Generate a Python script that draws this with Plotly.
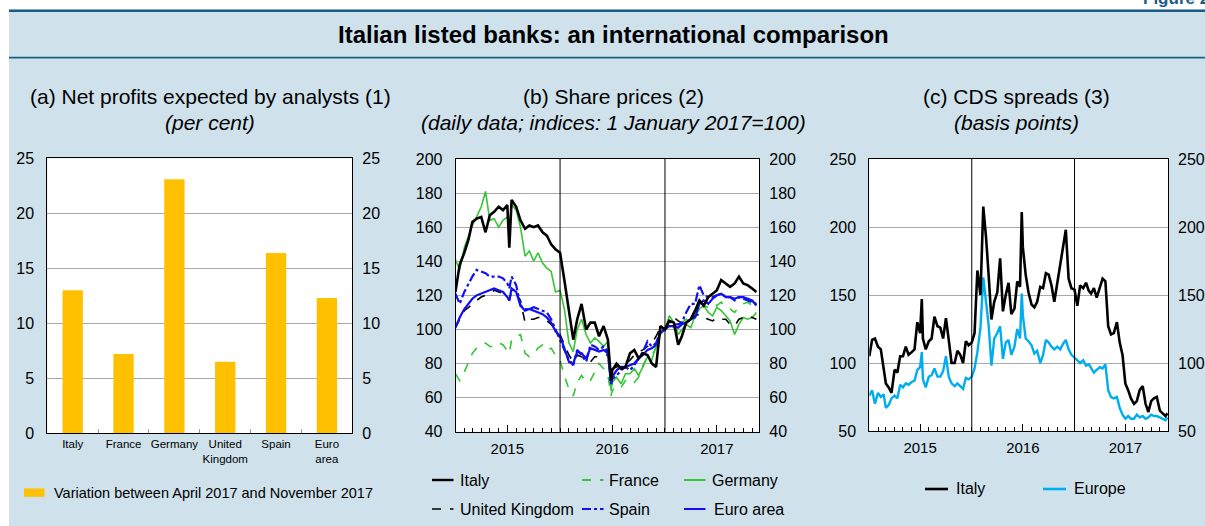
import plotly.graph_objects as go

# ---------------- DATA ----------------
# (a) Net profits expected by analysts: variation April 2017 - November 2017 (per cent)
CATEGORIES = ["Italy", "France", "Germany", "United<br>Kingdom", "Spain", "Euro<br>area"]
NET_PROFIT_VARIATION = [13.0, 7.2, 23.1, 6.5, 16.4, 12.3]

# (b) Share prices, indices 1 January 2017 = 100
B_DATES = [
    "2015-01-01", "2015-01-16", "2015-02-01", "2015-02-16", "2015-03-01", "2015-03-16", "2015-04-01", "2015-04-16",
    "2015-05-01", "2015-05-16", "2015-06-01", "2015-06-16", "2015-07-01", "2015-07-08", "2015-07-16", "2015-08-01",
    "2015-08-16", "2015-09-01", "2015-09-16", "2015-10-01", "2015-10-16", "2015-11-01", "2015-11-16", "2015-12-01",
    "2015-12-16",
    "2016-01-01", "2016-01-16", "2016-02-01", "2016-02-16", "2016-03-01", "2016-03-16", "2016-04-01", "2016-04-16",
    "2016-05-01", "2016-05-16", "2016-06-01", "2016-06-16", "2016-06-27", "2016-07-01", "2016-07-16", "2016-08-01",
    "2016-08-16", "2016-09-01", "2016-09-16", "2016-10-01", "2016-10-16", "2016-11-01", "2016-11-16", "2016-12-01",
    "2016-12-16",
    "2017-01-01", "2017-01-16", "2017-02-01", "2017-02-16", "2017-03-01", "2017-03-16", "2017-04-01", "2017-04-16",
    "2017-05-01", "2017-05-16", "2017-06-01", "2017-06-16", "2017-07-01", "2017-07-16", "2017-08-01", "2017-08-16",
    "2017-09-01", "2017-09-16", "2017-10-01", "2017-10-16", "2017-11-01", "2017-11-16",
]
SHARE_ITALY = [
    122, 138, 145, 153, 163, 165, 166, 157, 167, 169, 172, 170, 173, 148, 176, 172, 164, 159, 161, 160, 161, 157, 155, 150, 147,
    145, 129, 111, 94, 106, 115, 100, 104, 104, 96, 102, 94, 70, 76, 80, 77, 78, 86, 88, 83, 86, 85, 80, 78, 102,
    100, 105, 104, 91, 96, 104, 106, 111, 117, 114, 119, 121, 123, 129, 127, 125, 127, 131, 127, 126, 124, 122,
]
SHARE_FRANCE = [
    74, 70, 75, 81, 86, 89, 91, 92, 90, 90, 92, 91, 88, 86, 94, 96, 97, 86, 84, 86, 89, 91, 88, 89, 85,
    82, 73, 65, 61, 69, 73, 69, 70, 75, 80, 77, 73, 61, 64, 67, 66, 70, 71, 69, 72, 79, 84, 85, 89, 97,
    100, 103, 101, 99, 104, 106, 104, 106, 116, 114, 113, 115, 114, 116, 113, 112, 110, 113, 115, 116, 114, 113,
]
SHARE_GERMANY = [
    141, 135, 148, 155, 161, 166, 172, 181, 164, 165, 160, 164, 166, 159, 173, 170, 160, 143, 146, 140, 145, 139, 136, 134, 122,
    123, 112, 92, 87, 100, 106, 97, 92, 95, 93, 90, 93, 64, 69, 72, 68, 74, 74, 77, 73, 78, 84, 82, 90, 99,
    100, 108, 104, 97, 100, 103, 101, 108, 112, 114, 110, 108, 113, 111, 108, 105, 97, 103, 107, 106, 107, 110,
]
SHARE_UK = [
    101, 106, 111, 113, 115, 117, 119, 120, 121, 123, 122, 121, 119, 117, 122, 121, 117, 104, 106, 106, 107, 107, 105, 103, 100,
    97, 91, 85, 81, 85, 84, 82, 81, 84, 84, 85, 85, 76, 77, 78, 79, 80, 82, 85, 87, 88, 90, 92, 96, 101,
    100, 106, 107, 105, 104, 104, 106, 108, 109, 107, 106, 105, 107, 106, 106, 103, 102, 106, 107, 108, 107, 106,
]
SHARE_SPAIN = [
    121, 115, 122, 127, 131, 135, 134, 133, 131, 131, 131, 130, 127, 124, 131, 126, 114, 112, 112, 113, 112, 111, 110, 106, 100,
    93, 88, 82, 79, 88, 85, 81, 91, 90, 88, 90, 87, 68, 71, 73, 76, 78, 76, 79, 83, 87, 93, 90, 92, 99,
    100, 105, 103, 103, 104, 110, 115, 115, 126, 120, 119, 119, 120, 121, 119, 119, 117, 119, 118, 117, 116, 115,
]
SHARE_EURO_AREA = [
    101, 107, 112, 115, 118, 120, 121, 122, 123, 124, 123, 122, 119, 117, 124, 122, 114, 111, 112, 111, 110, 109, 107, 104, 99,
    96, 89, 81, 80, 87, 86, 83, 89, 88, 87, 88, 86, 68, 72, 76, 78, 78, 79, 80, 83, 85, 88, 89, 91, 98,
    100, 102, 102, 101, 103, 104, 106, 107, 115, 117, 115, 118, 120, 121, 119, 119, 118, 119, 119, 118, 117, 114,
]

# (c) CDS spreads, basis points
C_DATES = [
    "2015-01-01", "2015-01-11", "2015-01-21", "2015-02-01", "2015-02-11", "2015-02-21", "2015-03-01", "2015-03-11",
    "2015-03-21", "2015-04-01", "2015-04-11", "2015-04-21", "2015-05-01", "2015-05-11", "2015-05-21", "2015-06-01",
    "2015-06-11", "2015-06-21", "2015-07-01", "2015-07-07", "2015-07-11", "2015-07-21", "2015-08-01", "2015-08-11",
    "2015-08-21", "2015-09-01", "2015-09-11", "2015-09-21", "2015-10-01", "2015-10-11", "2015-10-21", "2015-11-01",
    "2015-11-11", "2015-11-21", "2015-12-01", "2015-12-11", "2015-12-21",
    "2016-01-01", "2016-01-11", "2016-01-21", "2016-02-01", "2016-02-11", "2016-02-21", "2016-03-01", "2016-03-11",
    "2016-03-21", "2016-04-01", "2016-04-11", "2016-04-21", "2016-05-01", "2016-05-11", "2016-05-21", "2016-06-01",
    "2016-06-11", "2016-06-21", "2016-06-27", "2016-07-01", "2016-07-11", "2016-07-21", "2016-08-01", "2016-08-11",
    "2016-08-21", "2016-09-01", "2016-09-11", "2016-09-21", "2016-10-01", "2016-10-11", "2016-10-21", "2016-11-01",
    "2016-11-11", "2016-11-21", "2016-12-01", "2016-12-11", "2016-12-21",
    "2017-01-01", "2017-01-11", "2017-01-21", "2017-02-01", "2017-02-11", "2017-02-21", "2017-03-01", "2017-03-11",
    "2017-03-21", "2017-04-01", "2017-04-11", "2017-04-21", "2017-05-01", "2017-05-11", "2017-05-21", "2017-06-01",
    "2017-06-11", "2017-06-21", "2017-07-01", "2017-07-11", "2017-07-21", "2017-08-01", "2017-08-11", "2017-08-21",
    "2017-09-01", "2017-09-11", "2017-09-21", "2017-10-01", "2017-10-11", "2017-10-21", "2017-11-01", "2017-11-11",
    "2017-11-21", "2017-11-28",
]
CDS_ITALY = [
    105, 117, 118, 112, 110, 95, 85, 82, 78, 95, 93, 105, 105, 112, 106, 108, 110, 130, 122, 147, 118, 110,
    116, 118, 134, 127, 126, 118, 133, 117, 100, 100, 109, 106, 100, 116, 113,
    115, 122, 168, 150, 215, 192, 165, 132, 145, 152, 177, 138, 150, 159, 136, 140, 160, 156, 211, 185, 165, 152,
    143, 141, 145, 156, 155, 166, 165, 157, 145, 160, 171, 188, 198, 162, 155,
    154, 142, 157, 155, 159, 153, 151, 155, 148, 155, 162, 160, 127, 121, 122, 130, 115, 106, 85, 80, 74,
    70, 72, 80, 83, 70, 64, 72, 74, 75, 65, 63, 61, 63,
]
CDS_EUROPE = [
    76, 80, 70, 78, 75, 77, 67, 69, 74, 76, 74, 84, 82, 85, 84, 86, 87, 95, 97, 108, 88, 82,
    90, 91, 96, 90, 90, 94, 105, 90, 85, 83, 85, 83, 81, 89, 88,
    90, 96, 108, 126, 163, 145, 128, 98, 118, 122, 127, 103, 115, 117, 106, 112, 125, 118, 151, 135, 118, 116,
    113, 107, 109, 100, 106, 117, 115, 112, 110, 112, 110, 114, 117, 110, 106,
    104, 102, 100, 102, 98, 99, 96, 93, 95, 97, 96, 99, 80, 75, 74, 75, 67, 62, 59, 61, 59,
    59, 62, 60, 61, 59, 60, 62, 61, 61, 60, 59, 58, 60,
]

YEAR_STARTS = ["2016-01-01", "2017-01-01"]
YEAR_MIDS = ["2015-07-01", "2016-07-01", "2017-07-01"]
YEAR_LABELS = ["2015", "2016", "2017"]

# ---------------- STYLE ----------------
W, H = 1205, 526
FONT = "Liberation Sans, Arial, Helvetica, sans-serif"
BG = "#CFE2EC"
DARK = "#1C5C84"
BAR_COLOR = "#FFC000"
GREEN = "#35C535"
BLUE = "#1010F0"
LIGHTBLUE = "#00AEEF"
GRID = "#A9A9A9"


def px(x):
    return x / W


def py(y):
    return 1 - y / H


fig = go.Figure()

# ---- panel (a)
fig.add_trace(go.Bar(x=CATEGORIES, y=NET_PROFIT_VARIATION, marker=dict(color=BAR_COLOR, line=dict(width=0)),
                     xaxis="x", yaxis="y", showlegend=False, name="Variation"))
fig.add_trace(go.Scatter(x=CATEGORIES, y=NET_PROFIT_VARIATION, mode="markers", marker=dict(opacity=0),
                         xaxis="x", yaxis="y4", showlegend=False, hoverinfo="skip"))

# ---- panel (b)
share_series = [
    ("France", SHARE_FRANCE, GREEN, "dash", 1.6),
    ("Germany", SHARE_GERMANY, GREEN, "solid", 1.6),
    ("United Kingdom", SHARE_UK, "black", "dash", 1.6),
    ("Spain", SHARE_SPAIN, BLUE, "dashdot", 2.2),
    ("Euro area", SHARE_EURO_AREA, BLUE, "solid", 2.2),
    ("Italy", SHARE_ITALY, "black", "solid", 2.6),
]
for name, vals, col, dash, wd in share_series:
    fig.add_trace(go.Scatter(x=B_DATES, y=vals, mode="lines", name=name, line=dict(color=col, dash=dash, width=wd),
                             xaxis="x2", yaxis="y2", showlegend=False))
fig.add_trace(go.Scatter(x=B_DATES, y=SHARE_ITALY, mode="markers", marker=dict(opacity=0),
                         xaxis="x2", yaxis="y5", showlegend=False, hoverinfo="skip"))

# ---- panel (c)
fig.add_trace(go.Scatter(x=C_DATES, y=CDS_EUROPE, mode="lines", name="Europe", line=dict(color=LIGHTBLUE, width=2.4),
                         xaxis="x3", yaxis="y3", showlegend=False))
fig.add_trace(go.Scatter(x=C_DATES, y=CDS_ITALY, mode="lines", name="Italy", line=dict(color="black", width=2.6),
                         xaxis="x3", yaxis="y3", showlegend=False))
fig.add_trace(go.Scatter(x=C_DATES, y=CDS_ITALY, mode="markers", marker=dict(opacity=0),
                         xaxis="x3", yaxis="y6", showlegend=False, hoverinfo="skip"))

tickfont = dict(family=FONT, size=16, color="black")


def yax(domain, rng, dtick, anchor):
    return dict(domain=domain, range=rng, dtick=dtick, tick0=0, anchor=anchor, showgrid=True, gridcolor=GRID,
                gridwidth=1, showline=True, mirror=True, linecolor="black", linewidth=1, ticks="",
                zeroline=False, tickfont=tickfont, ticklabelstandoff=9, fixedrange=True, automargin=False)


def yax_right(over, rng, dtick, anchor):
    return dict(overlaying=over, side="right", range=rng, dtick=dtick, tick0=0, anchor=anchor, showgrid=False,
                showline=False, zeroline=False, ticks="", tickfont=tickfont, ticklabelstandoff=9, fixedrange=True,
                automargin=False)


def xdate(domain, rng, anchor):
    return dict(domain=domain, range=rng, anchor=anchor, type="date", tickmode="array", tickvals=YEAR_MIDS,
                ticktext=YEAR_LABELS, ticks="inside", ticklen=7, tickcolor="black", tickwidth=1,
                minor=dict(ticks="inside", ticklen=4, tickcolor="black", dtick="M1", tick0="2015-01-01",
                           showgrid=False),
                showgrid=False, showline=True, mirror=True, linecolor="black", linewidth=1, zeroline=False,
                tickfont=dict(family=FONT, size=15, color="black"), ticklabelstandoff=3, fixedrange=True,
                automargin=False)


layout = dict(
    width=W, height=H, autosize=False,
    margin=dict(l=0, r=0, t=0, b=0, pad=0, autoexpand=False),
    paper_bgcolor=BG, plot_bgcolor="white",
    font=dict(family=FONT, color="black"),
    bargap=0.6, barmode="overlay",
    xaxis=dict(domain=[px(47.3), px(352.3)], anchor="y", type="category", range=[-0.5, 5.5],
               ticks="inside", tickson="boundaries", ticklen=4, tickcolor="#9A9A9A", showgrid=False,
               showline=True, mirror=True, linecolor="black", linewidth=1, tickangle=0, automargin=False,
               tickfont=dict(family=FONT, size=11.5, color="black"), ticklabelstandoff=0, fixedrange=True),
    yaxis=yax([py(433.3), py(158.3)], [0, 25], 5, "x"),
    yaxis4=yax_right("y", [0, 25], 5, "x"),
    xaxis2=xdate([px(455.7), px(759.3)], ["2015-01-02", "2017-11-26"], "y2"),
    yaxis2=yax([py(431.7), py(159)], [40, 200], 20, "x2"),
    yaxis5=yax_right("y2", [40, 200], 20, "x2"),
    xaxis3=xdate([px(869.3), px(1168)], ["2015-01-01", "2017-11-30"], "y3"),
    yaxis3=yax([py(431), py(159)], [50, 250], 50, "x3"),
    yaxis6=yax_right("y3", [50, 250], 50, "x3"),
)
fig.update_layout(**layout)

shapes = []
# white page margins
shapes.append(dict(type="rect", xref="paper", yref="paper", x0=0, x1=px(9), y0=0, y1=1,
                   fillcolor="white", line=dict(width=0), layer="below"))
shapes.append(dict(type="rect", xref="paper", yref="paper", x0=0, x1=1, y0=py(9.5), y1=1,
                   fillcolor="white", line=dict(width=0), layer="below"))
# dark title rules
shapes.append(dict(type="line", xref="paper", yref="paper", x0=px(9), x1=1, y0=py(10.8), y1=py(10.8),
                   line=dict(color=DARK, width=2.6)))
shapes.append(dict(type="line", xref="paper", yref="paper", x0=px(9), x1=1, y0=py(57.6), y1=py(57.6),
                   line=dict(color=DARK, width=1.8)))
# year boundaries
for xr, yr in (("x2", "y2 domain"), ("x3", "y3 domain")):
    for d in YEAR_STARTS:
        shapes.append(dict(type="line", xref=xr, yref=yr, x0=d, x1=d, y0=0, y1=1,
                           line=dict(color="black", width=1)))

annotations = []


def text(x, y, s, size, xanchor="center", bold=False, italic=False, color="black"):
    if bold:
        s = "<b>" + s + "</b>"
    if italic:
        s = "<i>" + s + "</i>"
    annotations.append(dict(xref="paper", yref="paper", x=px(x), y=py(y), text=s, showarrow=False,
                            xanchor=xanchor, yanchor="middle", font=dict(family=FONT, size=size, color=color)))


text(1141, -2, "Figure 2.7", 17, xanchor="left", bold=True, color=DARK)
text(613, 35, "Italian listed banks: an international comparison", 24, bold=True)
text(210, 97, "(a) Net profits expected by analysts (1)", 21)
text(210, 123, "(per cent)", 21, italic=True)
text(613, 97, "(b) Share prices (2)", 21)
text(613, 123, "(daily data; indices: 1 January 2017=100)", 21, italic=True)
text(1016, 97, "(c) CDS spreads (3)", 21)
text(1016, 123, "(basis points)", 21, italic=True)

# legend (a)
shapes.append(dict(type="rect", xref="paper", yref="paper", x0=px(24), x1=px(44.5), y0=py(496.8), y1=py(488.5),
                   fillcolor=BAR_COLOR, line=dict(width=0)))
text(52, 493, "Variation between April 2017 and November 2017", 14.5, xanchor="left")

# legend (b)
leg_b = [
    ("Italy", "black", "solid", 2.4, 432, 458, 480),
    ("France", GREEN, "dash", 2.0, 582, 607, 480),
    ("Germany", GREEN, "solid", 2.0, 684, 710, 480),
    ("United Kingdom", "black", "dash", 1.6, 432, 458, 509),
    ("Spain", BLUE, "dashdot", 2.0, 582, 607, 509),
    ("Euro area", BLUE, "solid", 2.0, 684, 712, 509),
]
for name, col, dash, wd, lx, tx, ly in leg_b:
    shapes.append(dict(type="line", xref="paper", yref="paper", x0=px(lx), x1=px(lx + 21.5), y0=py(ly), y1=py(ly),
                       line=dict(color=col, dash=dash, width=wd)))
    text(tx, ly, name, 16, xanchor="left")

# legend (c)
for name, col, lx, tx in (("Italy", "black", 925, 954), ("Europe", LIGHTBLUE, 1043, 1072)):
    shapes.append(dict(type="line", xref="paper", yref="paper", x0=px(lx), x1=px(lx + 23), y0=py(489), y1=py(489),
                       line=dict(color=col, width=2.6)))
    text(tx, 488, name, 16, xanchor="left")

fig.update_layout(shapes=shapes, annotations=annotations)
fig.write_html(
    "out.html",
    config={"displayModeBar": False},
    post_script="document.body.style.margin='0';document.body.style.padding='0';"
                "document.documentElement.style.overflow='hidden';document.body.style.overflow='hidden';",
)
